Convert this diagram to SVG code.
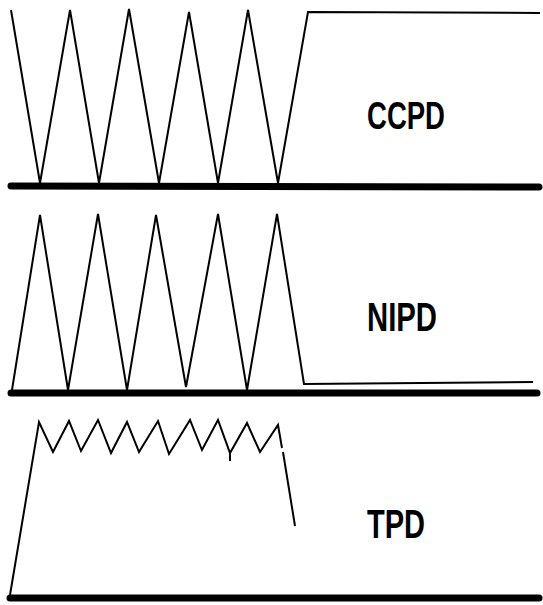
<svg xmlns="http://www.w3.org/2000/svg" width="543" height="605" viewBox="0 0 543 605">
<style>
.wave{fill:none;stroke:#000;stroke-width:2;stroke-linejoin:miter;stroke-linecap:butt}
.base{stroke:#000;stroke-width:7;stroke-linecap:round}
.lbl{font-family:"Liberation Sans","DejaVu Sans",sans-serif;font-weight:bold;fill:#000}
</style>
<rect width="543" height="605" fill="#fff"/>
<g id="ccpd">
<line class="base" x1="11" y1="186" x2="539" y2="187"/>
<polyline class="wave" points="11,10 40,183 70,10 99,183 129,9 159,183 189,12 218,183 248,10 278,183 308,12 540,13"/>
<text class="lbl" x="367" y="129" font-size="39" textLength="78" lengthAdjust="spacingAndGlyphs">CCPD</text>
</g>
<g id="nipd">
<line class="base" x1="11" y1="393" x2="537" y2="393"/>
<polyline class="wave" points="12,390 40,215 68,390 98,214 127,390 156,215 186,387 218,214 247,390 277,214 304,384 533,382"/>
<text class="lbl" x="367" y="331" font-size="40" textLength="70" lengthAdjust="spacingAndGlyphs">NIPD</text>
</g>
<g id="tpd">
<line class="base" x1="10" y1="598" x2="539" y2="598"/>
<polyline class="wave" points="10,595 39,422 53,452 69,421 81,451 98,420 111,453 127,422 139,452 158,421 169,454 190,420 202,450 218,420 230,453 247,423 260,452 278,425 282,448"/>
<line class="wave" x1="283" y1="452" x2="295" y2="526"/>
<line class="wave" x1="230" y1="453" x2="230" y2="461"/>
<text class="lbl" x="367" y="538" font-size="41" textLength="58" lengthAdjust="spacingAndGlyphs">TPD</text>
</g>
</svg>
